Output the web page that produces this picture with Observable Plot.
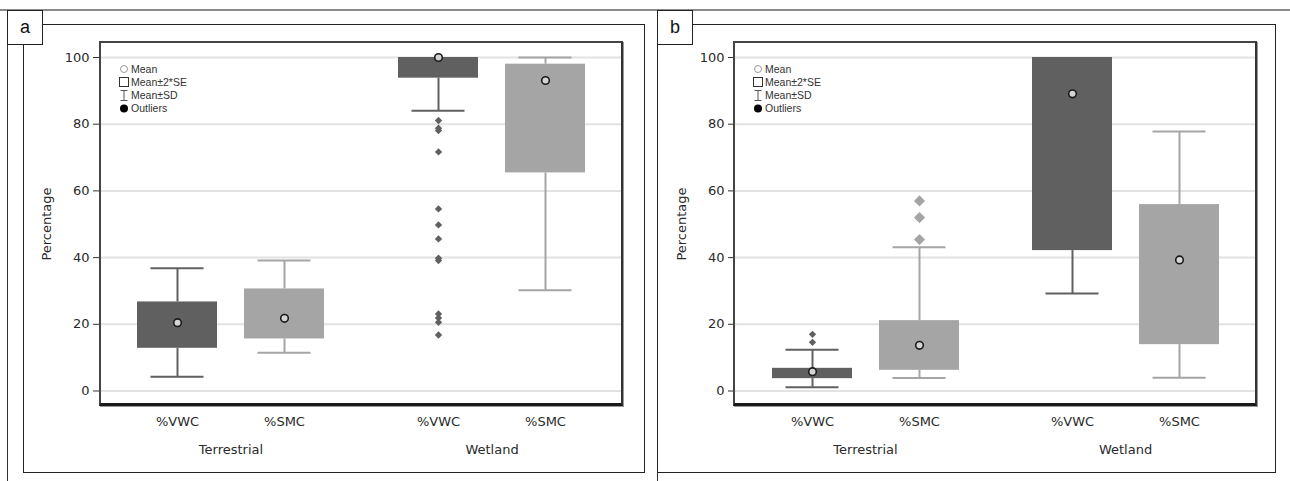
<!DOCTYPE html>
<html><head><meta charset="utf-8">
<script src="https://cdn.jsdelivr.net/npm/d3@7"></script>
<script src="https://cdn.jsdelivr.net/npm/@observablehq/plot@0.6"></script>
<style>
body{margin:0;background:#fff;}
#root{position:relative;width:1290px;height:481px;overflow:hidden;background:#fff;font-family:"DejaVu Sans",sans-serif;}
.abs{position:absolute;box-sizing:border-box;}
.lbl{background:#fff;border:1px solid #222;font-family:"Liberation Sans",Arial,sans-serif;font-size:18px;color:#111;text-align:center;line-height:32px;z-index:5;}
.frame{border-top:2px solid #444;border-left:2px solid #444;border-right:2px solid #333;border-bottom:3px solid #1a1a1a;box-shadow:1px 1px 0 #999;z-index:4;}
</style></head><body><div id="root"></div>
<script>
// categories
const groupOrder = ["Terrestrial", "Wetland"];
const varOrder = ["%VWC", "%SMC"];
const groups = ["Terrestrial", "Terrestrial", "Wetland", "Wetland"];
const variables = ["%VWC", "%SMC", "%VWC", "%SMC"];
const yTicks = [0, 20, 40, 60, 80, 100];

// panel a
const aMean = [20.5, 21.8, 100, 93.1];
const aBoxLow = [12.8, 15.6, 93.8, 65.4];
const aBoxHigh = [26.7, 30.6, 100, 98.0];
const aWhiskLow = [4.3, 11.5, 84.0, 30.2];
const aWhiskHigh = [36.8, 39.1, null, 100];
const aOutGroup = ["Wetland","Wetland","Wetland","Wetland","Wetland","Wetland","Wetland","Wetland","Wetland","Wetland","Wetland","Wetland","Wetland"];
const aOutVar = ["%VWC","%VWC","%VWC","%VWC","%VWC","%VWC","%VWC","%VWC","%VWC","%VWC","%VWC","%VWC","%VWC"];
const aOutValue = [81.1, 78.8, 78.1, 71.7, 54.6, 49.8, 45.6, 39.8, 39.1, 23.1, 21.9, 20.6, 16.8];

// panel b
const bMean = [5.8, 13.7, 89.1, 39.3];
const bBoxLow = [3.7, 6.2, 42.1, 13.9];
const bBoxHigh = [6.8, 21.1, 100, 55.9];
const bWhiskLow = [1.1, 3.9, 29.2, 4.0];
const bWhiskHigh = [12.4, 43.1, null, 77.8];
const bOutGroup = ["Terrestrial","Terrestrial","Terrestrial","Terrestrial","Terrestrial"];
const bOutVar = ["%VWC","%VWC","%SMC","%SMC","%SMC"];
const bOutValue = [17.0, 14.6, 57.0, 52.0, 45.4];

const legendItems = ["Mean", "Mean±2*SE", "Mean±SD", "Outliers"];

const root = document.getElementById("root");
function div(cls, css, text) {
  const e = document.createElement("div");
  e.className = "abs " + (cls || "");
  Object.assign(e.style, css);
  if (text) e.textContent = text;
  root.appendChild(e);
  return e;
}

function makePanel(d) {
  const boxes = groups.map((g, i) => ({
    group: g, variable: variables[i], mean: d.mean[i],
    lo: d.boxLow[i], hi: d.boxHigh[i], wlo: d.whiskLow[i], whi: d.whiskHigh[i]
  }));
  const outs = d.outValue.map((v, i) => ({group: d.outGroup[i], variable: d.outVar[i], value: v}));
  const common = {fx: "group", x: "variable"};
  return Plot.plot({
    width: d.width, height: 446,
    marginLeft: 76, marginRight: d.marginRight, marginTop: 17, marginBottom: 66,
    style: {background: "transparent", fontFamily: "DejaVu Sans, sans-serif", fontSize: "13px", color: "#2a2a2a"},
    fx: {domain: groupOrder, padding: 0, axis: null},
    x: {domain: varOrder, paddingInner: 0.256, paddingOuter: 0.34, axis: null},
    y: {domain: [-4.35, 104.5], axis: null},
    color: {domain: varOrder, range: ["#606060", "#a5a5a5"]},
    marks: [
      Plot.gridY(yTicks, {stroke: "#e2e2e2", strokeOpacity: 1, strokeWidth: 2}),
      Plot.axisY(yTicks, {tickSize: 7, tickPadding: 4, stroke: "#333", label: "Percentage", labelArrow: "none", labelAnchor: "center", labelOffset: 59}),
      Plot.axisX({tickSize: 0, tickPadding: 11, label: null}),
      Plot.axisFx({anchor: "bottom", tickSize: 0, tickPadding: 39, label: null}),
      Plot.ruleX(boxes, {...common, y1: "wlo", y2: "lo", stroke: "variable", strokeWidth: 2}),
      Plot.ruleX(boxes, {...common, y1: "hi", y2: "whi", stroke: "variable", strokeWidth: 2}),
      Plot.tickY(boxes, {...common, y: "wlo", stroke: "variable", strokeWidth: 2, insetLeft: 13.5, insetRight: 13.5}),
      Plot.tickY(boxes, {...common, y: "whi", stroke: "variable", strokeWidth: 2, insetLeft: 13.5, insetRight: 13.5}),
      Plot.barY(boxes, {...common, y1: "lo", y2: "hi", fill: "variable"}),
      Plot.dot(outs, {...common, y: "value", filter: o => o.variable === "%VWC", symbol: "diamond2", r: 3.3, fill: "variable"}),
      Plot.dot(outs, {...common, y: "value", filter: o => o.variable === "%SMC", symbol: "diamond2", r: 5, fill: "variable"}),
      Plot.dot(boxes, {...common, y: "mean", r: 3.8, fill: "#d4d4d4", stroke: "#1a1a1a", strokeWidth: 1.6})
    ]
  });
}

function legend(left, top) {
  const svg = d3.create("svg").attr("width", 90).attr("height", 56)
    .style("position", "absolute").style("left", left + "px").style("top", top + "px").style("z-index", 6);
  const g = svg.append("g").attr("font-family", "Liberation Sans, Arial, sans-serif").attr("font-size", 10.5).attr("fill", "#333");
  g.append("circle").attr("cx", 7).attr("cy", 7).attr("r", 3.5).attr("fill", "#fff").attr("stroke", "#999");
  g.append("rect").attr("x", 2.5).attr("y", 15.5).attr("width", 9).attr("height", 9).attr("fill", "#fff").attr("stroke", "#333");
  g.append("path").attr("d", "M3.5,28.5H10.5M7,28.5V38.5M3.5,38.5H10.5").attr("stroke", "#555").attr("fill", "none");
  g.append("circle").attr("cx", 7).attr("cy", 46.5).attr("r", 4).attr("fill", "#000");
  legendItems.forEach((t, i) => {
    g.append("text").attr("x", 14).attr("y", 7 + i * 13.2).attr("dy", "0.36em").text(t);
  });
  root.appendChild(svg.node());
}

// outer chrome
div("", {left: "0px", top: "9px", width: "1290px", height: "2px", background: "#8a8a8a"});
// panel a
div("", {left: "7px", top: "10px", width: "1px", height: "471px", background: "#333"});
div("", {left: "23px", top: "24px", width: "622px", height: "449px", border: "1px solid #222"});
div("lbl", {left: "7px", top: "10px", width: "36px", height: "35px"}, "a");
// panel b
div("", {left: "657px", top: "10px", width: "1px", height: "471px", background: "#333"});
div("", {left: "657px", top: "24px", width: "619px", height: "449px", border: "1px solid #222"});
div("lbl", {left: "657px", top: "10px", width: "36px", height: "35px"}, "b");

const pa = makePanel({mean: aMean, boxLow: aBoxLow, boxHigh: aBoxHigh, whiskLow: aWhiskLow, whiskHigh: aWhiskHigh,
  outGroup: aOutGroup, outVar: aOutVar, outValue: aOutValue, width: 620, marginRight: 22});
Object.assign(pa.style, {position: "absolute", left: "24px", top: "25px", zIndex: 3});
root.appendChild(pa);

const pb = makePanel({mean: bMean, boxLow: bBoxLow, boxHigh: bBoxHigh, whiskLow: bWhiskLow, whiskHigh: bWhiskHigh,
  outGroup: bOutGroup, outVar: bOutVar, outValue: bOutValue, width: 616, marginRight: 19});
Object.assign(pb.style, {position: "absolute", left: "658px", top: "25px", zIndex: 3});
root.appendChild(pb);

// inner plot frames
div("frame", {left: "99px", top: "41px", width: "524px", height: "365px"});
div("frame", {left: "733px", top: "41px", width: "524px", height: "365px"});

legend(117, 62);
legend(751, 62);
</script></body></html>
